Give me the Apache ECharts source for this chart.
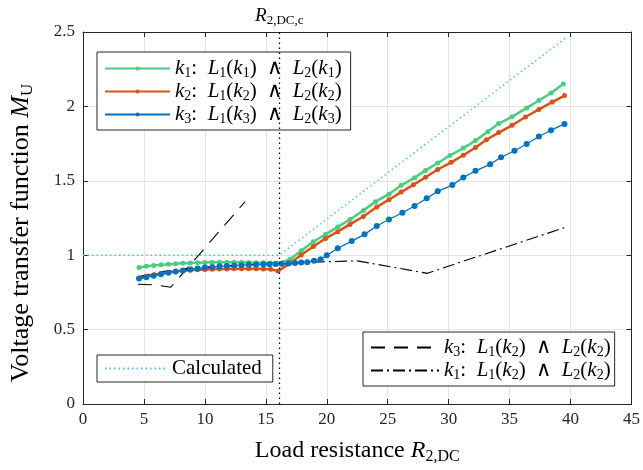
<!DOCTYPE html>
<html><head><meta charset="utf-8">
<script src="https://cdn.jsdelivr.net/npm/echarts@6/dist/echarts.min.js"></script>
<style>html,body{margin:0;padding:0;background:#fff}#c{width:643px;height:470px}</style>
</head><body><div id="c"></div>
<script>
// ---- data ----
const xTicks = [0,5,10,15,20,25,30,35,40,45];
const yTicks = [0,0.5,1,1.5,2,2.5];
const k1X = [4.6,5.2,5.8,6.4,7.0,7.6,8.2,8.8,9.4,10.0,10.6,11.2,11.8,12.4,13.0,13.6,14.2,14.8,15.4,16.0,17.0,17.9,18.9,19.9,20.9,21.9,23.0,24.0,25.1,26.1,27.2,28.1,29.1,30.1,31.2,32.2,33.2,34.1,35.2,36.4,37.4,38.4,39.4];
const k1Y = [0.918,0.925,0.930,0.935,0.939,0.943,0.946,0.948,0.950,0.951,0.952,0.952,0.952,0.952,0.952,0.951,0.950,0.949,0.948,0.945,0.973,1.03,1.09,1.14,1.19,1.24,1.30,1.36,1.41,1.47,1.52,1.57,1.62,1.67,1.72,1.77,1.83,1.885,1.93,1.99,2.04,2.09,2.15];
const k2X = [4.6,5.2,5.8,6.4,7.0,7.6,8.2,8.8,9.4,10.0,10.6,11.2,11.8,12.4,13.0,13.6,14.2,14.8,15.4,16.0,17.0,17.9,18.9,19.9,20.9,21.9,23.0,24.1,25.1,26.1,27.1,28.1,29.1,30.2,31.2,32.2,33.1,34.1,35.2,36.3,37.4,38.5,39.5];
const k2Y = [0.845,0.858,0.868,0.877,0.884,0.890,0.895,0.899,0.902,0.904,0.906,0.907,0.908,0.909,0.909,0.909,0.909,0.908,0.905,0.893,0.947,1.002,1.058,1.113,1.158,1.207,1.260,1.324,1.373,1.424,1.473,1.524,1.576,1.624,1.672,1.724,1.776,1.824,1.873,1.929,1.980,2.029,2.073];
const k3X = [4.6,5.2,5.8,6.4,7.0,7.6,8.2,8.8,9.4,10.0,10.6,11.2,11.8,12.4,13.0,13.6,14.2,14.8,15.3,15.8,16.3,16.85,17.4,17.9,18.4,18.95,19.5,20.0,20.9,22.05,23.1,24.1,25.1,26.2,27.2,28.2,29.1,30.3,31.2,32.2,33.4,34.3,35.4,36.4,37.4,38.4,39.5];
const k3Y = [0.843,0.852,0.862,0.872,0.882,0.890,0.898,0.905,0.911,0.917,0.921,0.925,0.928,0.931,0.933,0.935,0.937,0.939,0.940,0.941,0.942,0.944,0.947,0.951,0.953,0.962,0.973,1.000,1.047,1.095,1.140,1.196,1.240,1.285,1.331,1.383,1.429,1.471,1.522,1.567,1.611,1.658,1.702,1.747,1.798,1.840,1.882];
const calcX = [0, 16.1, 39.7];
const calcY = [1, 1, 2.466];
const dashK3X = [4.5, 6.0, 7.2, 13.3];
const dashK3Y = [0.805, 0.800, 0.785, 1.36];
const dashDotK1X = [4.5, 6.5, 8.5, 10.5, 12.5, 14.5, 16.5, 19.5, 22.5, 28.25, 29.9, 39.5];
const dashDotK1Y = [0.855, 0.890, 0.910, 0.920, 0.930, 0.938, 0.942, 0.955, 0.962, 0.878, 0.924, 1.185];
const rCrit = 16.1;

// ---- build ----
const zip = (xs, ys) => xs.map((x, i) => [x, ys[i]]);
const FF = 'Liberation Serif';
const AX = '#262626';
function makeRich(fs, lh, sfs) {
  return {
    r: {fontFamily: FF, fontSize: fs, lineHeight: lh, color: '#000'},
    i: {fontFamily: FF, fontSize: fs, lineHeight: lh, fontStyle: 'italic', color: '#000'},
    s: {fontFamily: FF, fontSize: sfs, lineHeight: sfs, verticalAlign: 'bottom', color: '#000'}
  };
}
const legRich = makeRich(21, 23, 14);
const xRich = makeRich(24, 28, 16);
const yRich = makeRich(26, 30, 17);
const topRich = makeRich(19, 22, 13);
function lab(a, b, c) {
  return `{i|k}{s|${a}}{r|:  }{i|L}{s|1}{r|(}{i|k}{s|${b}}{r|)  ∧  }{i|L}{s|2}{r|(}{i|k}{s|${c}}{r|)}`;
}
const legendLabels = {
  k1: lab(1,1,1), k2: lab(2,2,2), k3: lab(3,3,3),
  Calculated: '{r|Calculated}',
  k3d: lab(3,2,2), k1d: lab(1,2,2)
};
const legendBase = {
  orient: 'vertical', backgroundColor: '#fff', borderColor: AX, borderWidth: 1,
  itemGap: 1, itemHeight: 5, selectedMode: false,
  formatter: n => legendLabels[n], textStyle: {rich: legRich}
};
const xCommon = {type: 'value', min: 0, max: 45, interval: 5};
const yCommon = {type: 'value', min: 0, max: 2.5, interval: 0.5};
const tickLab = {fontFamily: FF, fontSize: 17, color: AX};

const option = {
  animation: false,
  backgroundColor: '#fff',
  grid: {left: 80, right: 11, top: 32, bottom: 63, containLabel: false},
  xAxis: [
    Object.assign({}, xCommon, {
      position: 'bottom',
      axisLine: {onZero: false, lineStyle: {color: AX}},
      axisTick: {inside: true, length: 5, lineStyle: {color: AX}},
      axisLabel: Object.assign({margin: 7, formatter: v => String(v)}, tickLab),
      splitLine: {show: true, lineStyle: {color: '#e4e4e4'}},
      name: '{r|Load resistance }{i|R}{s|2,DC}',
      nameLocation: 'middle', nameGap: 33,
      nameTextStyle: {rich: xRich}
    }),
    Object.assign({}, xCommon, {
      position: 'top',
      axisLine: {onZero: false, lineStyle: {color: AX}},
      axisTick: {inside: true, length: 5, lineStyle: {color: AX}},
      axisLabel: {show: false}, splitLine: {show: false}
    })
  ],
  yAxis: [
    Object.assign({}, yCommon, {
      position: 'left',
      axisLine: {show: true, onZero: false, lineStyle: {color: AX}},
      axisTick: {show: true, inside: true, length: 5, lineStyle: {color: AX}},
      axisLabel: Object.assign({margin: 8, formatter: v => String(v)}, tickLab),
      splitLine: {show: true, lineStyle: {color: '#e4e4e4'}},
      name: '{r|Voltage transfer function }{i|M}{s|U}',
      nameLocation: 'middle', nameGap: 47,
      nameTextStyle: {rich: yRich, padding: [0, 30, 0, 0]}
    }),
    Object.assign({}, yCommon, {
      position: 'right',
      axisLine: {show: true, onZero: false, lineStyle: {color: AX}},
      axisTick: {show: true, inside: true, length: 5, lineStyle: {color: AX}},
      axisLabel: {show: false}, splitLine: {show: false}
    })
  ],
  legend: [
    Object.assign({}, legendBase, {left: 97, top: 52, padding: [6, 9, 4, 7], itemWidth: 65, data: ['k1','k2','k3']}),
    Object.assign({}, legendBase, {left: 97, top: 355, padding: [3, 11, 3, 7], itemWidth: 62, data: ['Calculated'], itemStyle: {opacity: 0}}),
    Object.assign({}, legendBase, {left: 363, top: 332, padding: [5, 4, 4, 7], itemWidth: 68, data: ['k3d','k1d'], itemStyle: {opacity: 0}})
  ],
  series: [
    {name: 'Calculated', type: 'line', data: zip(calcX, calcY), symbol: 'none',
     lineStyle: {color: '#4DBEEE', width: 1.5, type: [1.5, 3]}, itemStyle: {color: '#4DBEEE'},
     markLine: {silent: true, symbol: ['none','none'], animation: false,
       data: [{xAxis: rCrit}],
       lineStyle: {color: '#000', width: 1.3, type: [1.5, 3.5]},
       label: {show: true, position: 'end', distance: 5, formatter: '{i|R}{s|2,DC,c}', rich: topRich}}},
    {name: 'k1', type: 'line', data: zip(k1X, k1Y), symbol: 'circle', symbolSize: 5,
     lineStyle: {color: '#4DCC7F', width: 2.5}, itemStyle: {color: '#4DCC7F'}},
    {name: 'k2', type: 'line', data: zip(k2X, k2Y), symbol: 'circle', symbolSize: 5,
     lineStyle: {color: '#D95319', width: 2.5}, itemStyle: {color: '#D95319'}},
    {name: 'k3', type: 'line', data: zip(k3X, k3Y), symbol: 'circle', symbolSize: 6,
     lineStyle: {color: '#0072BD', width: 1.3}, itemStyle: {color: '#0072BD'}},
    {name: 'k3d', type: 'line', data: zip(dashK3X, dashK3Y), symbol: 'none',
     lineStyle: {color: '#000', width: 1.1, type: [14, 9]}, itemStyle: {color: '#000'}},
    {name: 'k1d', type: 'line', data: zip(dashDotK1X, dashDotK1Y), symbol: 'none',
     lineStyle: {color: '#000', width: 1.1, type: [12, 4, 2, 4]}, itemStyle: {color: '#000'}}
  ]
};
const chart = echarts.init(document.getElementById('c'), null, {renderer: 'canvas'});
chart.setOption(option);
</script></body></html>
